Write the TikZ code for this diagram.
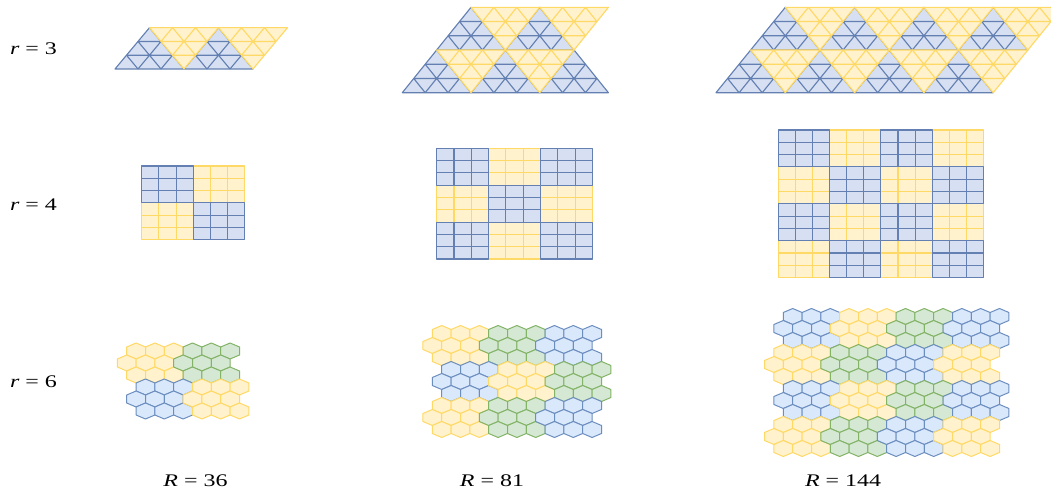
\documentclass[tikz,border=0pt]{standalone}
\usepackage{fontspec}
\setmainfont{Liberation Serif}
\usepackage{graphicx}
\definecolor{bfill}{HTML}{D6E0F2}
\definecolor{bline}{HTML}{6480B2}
\definecolor{hbfill}{HTML}{DAE8FC}
\definecolor{hbline}{HTML}{6C8EBF}
\definecolor{yfill}{HTML}{FFF2CC}
\definecolor{yline}{HTML}{FFD966}
\definecolor{gfill}{HTML}{D5E8D4}
\definecolor{gline}{HTML}{82B366}
\tikzset{
  pline/.style={line width=0.85pt, line join=round},
  hline/.style={line width=0.75pt, line join=round},
  lbl/.style={inner sep=0pt, font=\fontsize{13.3}{16}\selectfont},
}
% triangle patch pointing up, lattice corner (u0,v0)
\newcommand\uptri[4]{%
  \filldraw[fill=#3, draw=#4, pline] (#1,#2) -- ++(3,0) -- ++(-3,3) -- cycle;
  \draw[draw=#4, pline] (#1,#2+1) -- ++(2,0) (#1,#2+2) -- ++(1,0)
     (#1+1,#2) -- ++(0,2) (#1+2,#2) -- ++(0,1)
     (#1+1,#2) -- ++(-1,1) (#1+2,#2) -- ++(-2,2);}
% triangle patch pointing down, bottom apex at (u0+3,v0)
\newcommand\dntri[4]{%
  \filldraw[fill=#3, draw=#4, pline] (#1+3,#2) -- ++(0,3) -- ++(-3,0) -- cycle;
  \draw[draw=#4, pline] (#1+2,#2+1) -- ++(1,0) (#1+1,#2+2) -- ++(2,0)
     (#1+1,#2+2) -- ++(0,1) (#1+2,#2+1) -- ++(0,2)
     (#1+3,#2+1) -- ++(-2,2) (#1+3,#2+2) -- ++(-1,1);}
% square patch 3x3
\newcommand\sqpatch[4]{%
  \filldraw[fill=#3, draw=#4, pline] (#1,#2) rectangle ++(3,3);
  \draw[draw=#4, pline] (#1+1,#2) -- ++(0,3) (#1+2,#2) -- ++(0,3)
     (#1,#2+1) -- ++(3,0) (#1,#2+2) -- ++(3,0);}
% one hexagon, centre in pixels
\newcommand\hexcell[4]{%
  \filldraw[fill=#3, draw=#4, hline] (#1,#2-8) -- ++(9.4,4) -- ++(0,8) -- ++(-9.4,4)
     -- ++(-9.4,-4) -- ++(0,-8) -- cycle;}
% hex patch of 9 cells
\newcommand\hexpatch[4]{%
  \foreach \hi/\ho in {0/9.4,1/0,2/9.4}{%
    \foreach \hk in {0,1,2}{%
      \pgfmathsetmacro\hcx{#1+\ho+18.8*\hk}%
      \pgfmathsetmacro\hcy{#2+12*\hi}%
      \hexcell{\hcx}{\hcy}{#3}{#4}%
    }}}
\begin{document}
\begin{tikzpicture}[x=0.75pt,y=-0.75pt]
\useasboundingbox (0,0) rectangle (1051,491);
\clip (0,0) rectangle (1051,491);
\fill[white] (0,0) rectangle (1051,491);

% ---------------- row and column labels
\node[lbl] (r3) at (33.5,49) {\scalebox{1.35}[1]{\textit{r} = 3}};
\node[lbl] (r4) at (33.5,205) {\scalebox{1.35}[1]{\textit{r} = 4}};
\node[lbl] (r6) at (33.5,382) {\scalebox{1.35}[1]{\textit{r} = 6}};
\node[lbl] (R36) at (195.5,481) {\scalebox{1.35}[1]{\textit{R} = 36}};
\node[lbl] (R81) at (492,481) {\scalebox{1.35}[1]{\textit{R} = 81}};
\node[lbl] (R144) at (843,481) {\scalebox{1.35}[1]{\textit{R} = 144}};

% ---------------- triangles
\begin{scope}[shift={(115,69)}, x={(17.25pt,0pt)}, y={(8.625pt,10.33pt)}]
  \foreach \uu in {0,3} {\uptri{\uu}{0}{bfill}{bline}}
  \foreach \uu in {0,3} {\dntri{\uu}{0}{yfill}{yline}}
\end{scope}
\begin{scope}[shift={(402.3,92.7)}, x={(17.175pt,0pt)}, y={(8.5875pt,10.67pt)}]
  \foreach \uu in {0,3,6} {\uptri{\uu}{0}{bfill}{bline}}
  \foreach \uu in {0,3} {\uptri{\uu}{3}{bfill}{bline}}
  \foreach \uu in {0,3} {\dntri{\uu}{0}{yfill}{yline}}
  \foreach \uu in {0,3} {\dntri{\uu}{3}{yfill}{yline}}
\end{scope}
\begin{scope}[shift={(716,92.7)}, x={(17.325pt,0pt)}, y={(8.6625pt,10.67pt)}]
  \foreach \uu in {0,3,6,9} {\uptri{\uu}{0}{bfill}{bline}\uptri{\uu}{3}{bfill}{bline}}
  \foreach \uu in {0,3,6,9} {\dntri{\uu}{0}{yfill}{yline}\dntri{\uu}{3}{yfill}{yline}}
\end{scope}

% ---------------- squares
\begin{scope}[shift={(141.7,166)}, x={(12.9pt,0pt)}, y={(0pt,-9.225pt)}]
  \sqpatch{3}{0}{yfill}{yline}\sqpatch{0}{3}{yfill}{yline}
  \sqpatch{0}{0}{bfill}{bline}\sqpatch{3}{3}{bfill}{bline}
\end{scope}
\begin{scope}[shift={(436.7,148.3)}, x={(12.975pt,0pt)}, y={(0pt,-9.225pt)}]
  \foreach \pp in {0,1,2}{\foreach \qq in {0,1,2}{%
    \pgfmathtruncatemacro\pq{mod(\pp+\qq,2)}%
    \ifnum\pq=1 \sqpatch{3*\qq}{3*\pp}{yfill}{yline}\fi}}
  \foreach \pp in {0,1,2}{\foreach \qq in {0,1,2}{%
    \pgfmathtruncatemacro\pq{mod(\pp+\qq,2)}%
    \ifnum\pq=0 \sqpatch{3*\qq}{3*\pp}{bfill}{bline}\fi}}
\end{scope}
\begin{scope}[shift={(778.3,130)}, x={(12.825pt,0pt)}, y={(0pt,-9.225pt)}]
  \foreach \pp in {0,1,2,3}{\foreach \qq in {0,1,2,3}{%
    \pgfmathtruncatemacro\pq{mod(\pp+\qq,2)}%
    \ifnum\pq=1 \sqpatch{3*\qq}{3*\pp}{yfill}{yline}\fi}}
  \foreach \pp in {0,1,2,3}{\foreach \qq in {0,1,2,3}{%
    \pgfmathtruncatemacro\pq{mod(\pp+\qq,2)}%
    \ifnum\pq=0 \sqpatch{3*\qq}{3*\pp}{bfill}{bline}\fi}}
\end{scope}

% ---------------- hexagons
\foreach \pp/\qq/\cf/\cl in {0/0/yfill/yline,0/1/gfill/gline,1/0/hbfill/hbline,1/1/yfill/yline}{%
  \pgfmathsetmacro\hx{126.7+56.4*\qq+9.4*mod(\pp,2)}%
  \pgfmathsetmacro\hy{351+36*\pp}%
  \hexpatch{\hx}{\hy}{\cf}{\cl}}
\foreach \pp/\qq/\cf/\cl in {0/0/yfill/yline,0/1/gfill/gline,0/2/hbfill/hbline,
  1/0/hbfill/hbline,1/1/yfill/yline,1/2/gfill/gline,
  2/0/yfill/yline,2/1/gfill/gline,2/2/hbfill/hbline}{%
  \pgfmathsetmacro\hx{432.3+56.4*\qq+9.4*mod(\pp,2)}%
  \pgfmathsetmacro\hy{333.5+36*\pp}%
  \hexpatch{\hx}{\hy}{\cf}{\cl}}
\foreach \pp/\qq/\cf/\cl in {0/0/hbfill/hbline,0/1/yfill/yline,0/2/gfill/gline,0/3/hbfill/hbline,
  1/0/yfill/yline,1/1/gfill/gline,1/2/hbfill/hbline,1/3/yfill/yline,
  2/0/hbfill/hbline,2/1/yfill/yline,2/2/gfill/gline,2/3/hbfill/hbline,
  3/0/yfill/yline,3/1/gfill/gline,3/2/hbfill/hbline,3/3/yfill/yline}{%
  \pgfmathsetmacro\hx{783.3+56.4*\qq-9.4*mod(\pp,2)}%
  \pgfmathsetmacro\hy{316.5+36*\pp}%
  \hexpatch{\hx}{\hy}{\cf}{\cl}}
\end{tikzpicture}
\end{document}
